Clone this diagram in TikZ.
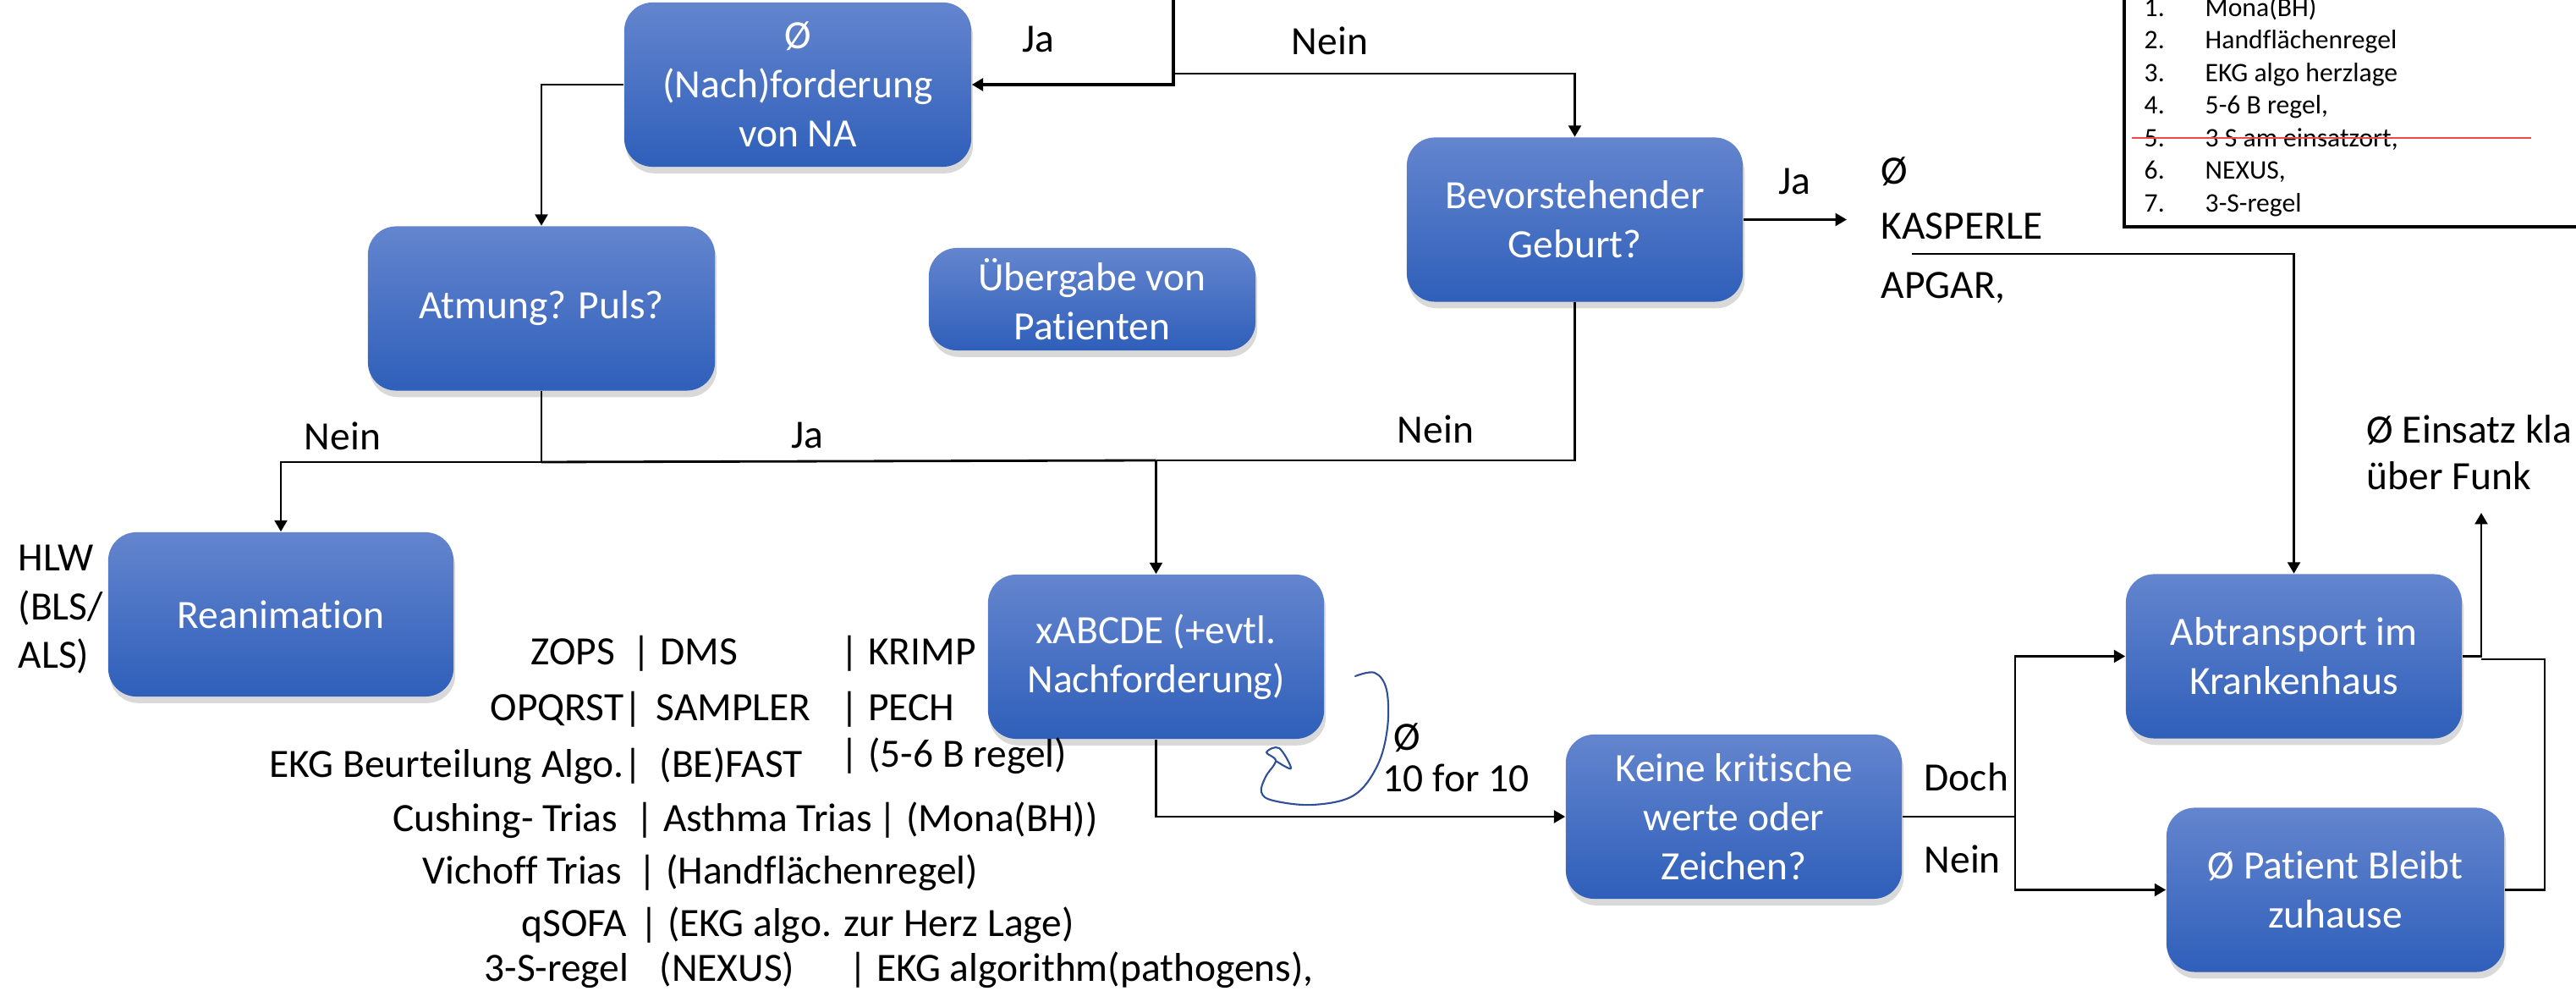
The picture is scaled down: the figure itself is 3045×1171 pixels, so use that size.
\documentclass[tikz,border=0pt]{standalone}
\usepackage{fontspec}
\setmainfont{Carlito}[Ligatures=NoCommon]
\usetikzlibrary{arrows.meta,shadows}
\definecolor{boxtop}{HTML}{6485CE}
\definecolor{boxbot}{HTML}{2F5FBA}
\definecolor{pen}{HTML}{2F4F98}
\definecolor{strike}{HTML}{F04848}
\newcommand{\mainsize}{\fontsize{13.5}{16.5}\selectfont}
\newcommand{\legsize}{\fontsize{9}{10.9}\selectfont}
\tikzset{
  flowbox/.style={rounded corners=9.5pt, top color=boxtop, bottom color=boxbot, text=white, font=\mainsize,
                  align=center, inner sep=2pt, minimum width=#1, minimum height=1.94cm,
                  drop shadow={shadow xshift=0.6pt, shadow yshift=-2.2pt, opacity=0.3}},
  flowbox/.default=3.97cm,
  flow/.style={draw=black, line width=0.8pt, -{Triangle[length=3.8pt,width=4.2pt]}},
  link/.style={draw=black, line width=0.8pt},
  lbl/.style={font=\mainsize, inner sep=0pt},
  leg/.style={font=\legsize, inner sep=0pt, anchor=base west},
}

\begin{document}
\begin{tikzpicture}[x=0.01cm, y=-0.01cm, line join=miter]
\useasboundingbox (0,0) rectangle (3045,1171);

% ---------------- boxes ----------------
\node[flowbox=4.10cm] (nach) at (943,100) {Ø\\(Nach)forderung\\von NA};
\node[flowbox=4.10cm] (atmung) at (640,364.5) {Atmung? Puls?};
\node[flowbox=3.86cm, minimum height=1.21cm] (uebergabe) at (1291,353.5) {Übergabe von\\Patienten};
\node[flowbox] (geburt) at (1861.5,259.5) {Bevorstehender\\Geburt?};
\node[flowbox=4.08cm] (reani) at (332,726) {Reanimation};
\node[flowbox] (abcde) at (1366.5,776) {xABCDE (+evtl.\\Nachforderung)};
\node[flowbox] (kritisch) at (2049.5,965) {Keine kritische\\werte oder\\Zeichen?};
\node[flowbox] (transport) at (2711.5,775.5) {Abtransport im\\Krankenhaus};
\node[flowbox=3.99cm] (zuhause) at (2760.5,1051.5) {Ø Patient Bleibt\\zuhause};

% ---------------- connectors ----------------
\coordinate (topin) at (1387,-10);
\coordinate (fork) at (1387,87);
\draw[flow, line width=1.1pt] (topin) |- (nach.east);
\draw[flow] (fork) -| (geburt.north);
\draw[flow] (nach.west) -| (atmung.north);
\coordinate (jatm) at (640,546);
\coordinate (jabc) at (1366.5,544);
\draw[link] (atmung.south) -- (jatm);
\draw[flow] (jatm) -| (reani.north);
\draw[link] (jatm) -- (jabc);
\draw[link] (geburt.south) |- (jabc);
\draw[flow] (jabc) -- (abcde.north);
\draw[flow] (abcde.south) |- (kritisch.west);
\coordinate (jkrit) at (2382,965);
\draw[link] (kritisch.east) -- (jkrit);
\draw[flow] (jkrit) |- (transport.west);
\draw[flow] (jkrit) |- (zuhause.west);
\coordinate (kasp) at (2183,259.5);
\draw[flow] (geburt.east) -- (kasp);
\coordinate (kline) at (2260,300);
\draw[flow] (kline) -| (transport.north);
\coordinate (funk) at (2933,606);
\draw[flow] (transport.east) -| (funk);
\coordinate (jright) at (3008,779);
\draw[link] (zuhause.east) -| (jright) -- (jright -| funk);

% ---------------- branch labels ----------------
\node[lbl, anchor=base] (jaNach) at (1227,62) {Ja};
\node[lbl, anchor=base] (neinGeburt) at (1572,65) {Nein};
\node[lbl, anchor=base] (neinReani) at (405,532) {Nein};
\node[lbl, anchor=base] (jaAbcde) at (954,530) {Ja};
\node[lbl, anchor=base] (neinAbcde) at (1697,524) {Nein};
\node[lbl, anchor=base] (jaKasp) at (2121,230) {Ja};
\node[lbl, anchor=base west] (doch) at (2274,935) {Doch};
\node[lbl, anchor=base west] (neinZuhause) at (2274,1032) {Nein};

% ---------------- notes ----------------
\node[lbl, anchor=base west] (oKasp) at (2223,218) {Ø};
\node[lbl, anchor=base west] (kasperle) at (2223,283) {KASPERLE};
\node[lbl, anchor=base west] (apgar) at (2223,353) {APGAR,};
\node[lbl, anchor=base west] (einsatz) at (2797,524) {Ø Einsatz kla};
\node[lbl, anchor=base west] (funkTxt) at (2797,579) {über Funk};
\node[lbl, anchor=base west] (oTen) at (1647,887) {Ø};
\node[lbl, anchor=base west] (tenfor) at (1634,936) {10 for 10};
\node[lbl, anchor=base west] (hlw1) at (21,675) {HLW};
\node[lbl, anchor=base west] (hlw2) at (21,733) {(BLS/};
\node[lbl, anchor=base west] (hlw3) at (21,790) {ALS)};

% ---------------- schemes below xABCDE ----------------
\foreach \yy/\xx/\txt [count=\i] in {786/728/{ZOPS}, 852/760/{OPQRST|}, 919/760/{EKG Beurteilung Algo.|},
    983/731/{Cushing- Trias}, 1045/736/{Vichoff Trias}, 1107/742/{qSOFA}, 1160/744/{3-S-regel}}
  \node[lbl, anchor=base east] (alg\i) at (\xx,\yy) {\txt};
\foreach \yy/\xx/\txt [count=\i] in {786/747/{| DMS}, 852/775/{SAMPLER}, 919/779/{(BE)FAST},
    983/751/{| Asthma Trias}, 1045/754/{| (Handflächenregel)}, 1107/756/{| (EKG algo. zur Herz Lage)}, 1160/779/{(NEXUS)}}
  \node[lbl, anchor=base west] (mid\i) at (\xx,\yy) {\txt};
\foreach \yy/\xx/\txt [count=\i] in {786/993/{| KRIMP}, 852/993/{| PECH}, 907/993/{| (5-6 B regel)},
    983/1038/{| (Mona(BH))}, 1160/1003/{| EKG algorithm(pathogens),}}
  \node[lbl, anchor=base west] (rgt\i) at (\xx,\yy) {\txt};

% ---------------- hand-drawn loop ----------------
\draw[pen, line width=0.6pt, line cap=round, line join=round] plot[smooth, tension=0.6] coordinates
  {(1602,799) (1625,795) (1639,815) (1640,860) (1628,905) (1600,940) (1552,951) (1505,946) (1491,936)
   (1496,918) (1508,899) (1497,889) (1512,884) (1526,908) (1508,899)};

% ---------------- checklist (top right) ----------------
\draw[line width=1.2pt] (2511,-20) rectangle (3100,268);
\foreach \txt [count=\i] in {{Mona(BH)}, {Handflächenregel}, {EKG algo herzlage}, {5-6 B regel,}, {3 S am einsatzort,}, {NEXUS,}, {3-S-regel}}{
  \pgfmathsetmacro{\ly}{19.5+38.5*(\i-1)}
  \node[leg] (legnr\i) at (2534,\ly) {\i.};
  \node[leg] (legtx\i) at (2606,\ly) {\txt};
}
\draw[strike, line width=0.6pt] (2520,163) -- (2992,163);

\end{tikzpicture}
\end{document}
